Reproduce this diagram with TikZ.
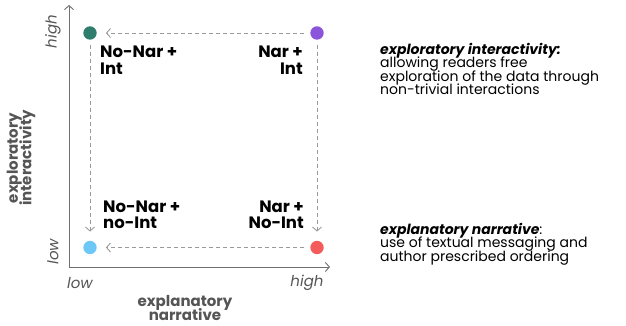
\documentclass[tikz,border=0pt]{standalone}
\usepackage{fontspec}
\setmainfont{Poppins}
\usetikzlibrary{arrows.meta}
\definecolor{cteal}{HTML}{2F7D6D}
\definecolor{cpurple}{HTML}{8B55DB}
\definecolor{cblue}{HTML}{6DC8F8}
\definecolor{cred}{HTML}{F45B5B}
\definecolor{axisgrey}{HTML}{707070}
\definecolor{dashgrey}{HTML}{9A9A9A}
\definecolor{labgrey}{HTML}{555555}
\newcommand{\tightlines}{\lineskiplimit=-100pt\relax}
\tikzset{
  dot/.style={circle, minimum size=13.4pt, inner sep=0pt, fill=#1},
  axisline/.style={draw=axisgrey, line width=0.9pt, {Straight Barb[length=4pt,width=9pt]}-{Straight Barb[length=4pt,width=9pt]}},
  dasharrow/.style={draw=dashgrey, line width=0.9pt, dash pattern=on 4pt off 3pt, -{Straight Barb[length=4pt,width=9pt]}},
  quad/.style={inner sep=0pt, font=\fontsize{16.5}{16.5}\selectfont\bfseries\tightlines},
  tick/.style={inner sep=0pt, text=labgrey, font=\fontsize{15}{15}\selectfont\itshape},
  axlab/.style={inner sep=0pt, text=labgrey, align=center, font=\fontsize{15}{13.5}\selectfont\bfseries\tightlines},
  desc/.style={inner sep=0pt, align=left, anchor=north west, font=\fontsize{14}{13.5}\selectfont\tightlines},
}
\begin{document}
\begin{tikzpicture}[x=1pt,y=1pt]
\useasboundingbox (0,0) rectangle (626,326);
% axes
\coordinate (ytop) at (69,321);
\coordinate (xend) at (330,59);
\draw[axisline] (ytop) |- (xend);
% dots
\node[dot=cteal] (teal) at (90,293) {};
\node[dot=cpurple] (purple) at (317,293) {};
\node[dot=cblue] (blue) at (90,78.5) {};
\node[dot=cred] (red) at (317,78.5) {};
% dashed arrows
\draw[dasharrow, shorten <=6pt, shorten >=9pt] (purple) -- (teal);
\draw[dasharrow, shorten <=6pt, shorten >=9pt] (red) -- (blue);
\draw[dasharrow, shorten <=5pt, shorten >=9pt] (teal) -- (blue);
\draw[dasharrow, shorten <=5pt, shorten >=9pt] (purple) -- (red);
% quadrant labels
\node[quad, anchor=north west, align=left] (tl) at (100,280) {No-Nar +\\Int};
\node[quad, anchor=north east, align=right] (tr) at (303,280) {Nar +\\Int};
\node[quad, anchor=north west, align=left] (bl) at (103,125.5) {No-Nar +\\no-Int};
\node[quad, anchor=north east, align=right] (br) at (304,125.5) {Nar +\\No-Int};
% tick labels
\node[tick, rotate=90] (yhigh) at (53,294.5) {high};
\node[tick, rotate=90] (ylow) at (53,74.5) {low};
\node[tick] (xlow) at (80,43) {low};
\node[tick] (xhigh) at (307,43) {high};
% axis titles
\node[axlab] (xtitle) at (185,18) {explanatory\\narrative};
\node[axlab, rotate=90] (ytitle) at (21,168) {exploratory\\interactivity};
% descriptions
\node[desc] (d1) at (380,283) {\textbf{\textit{exploratory interactivity:}}\\allowing readers free\\exploration of the data through\\non-trivial interactions};
\node[desc] (d2) at (380,103) {\textbf{\textit{explanatory narrative}}:\\use of textual messaging and\\author prescribed ordering};
\end{tikzpicture}
\end{document}
